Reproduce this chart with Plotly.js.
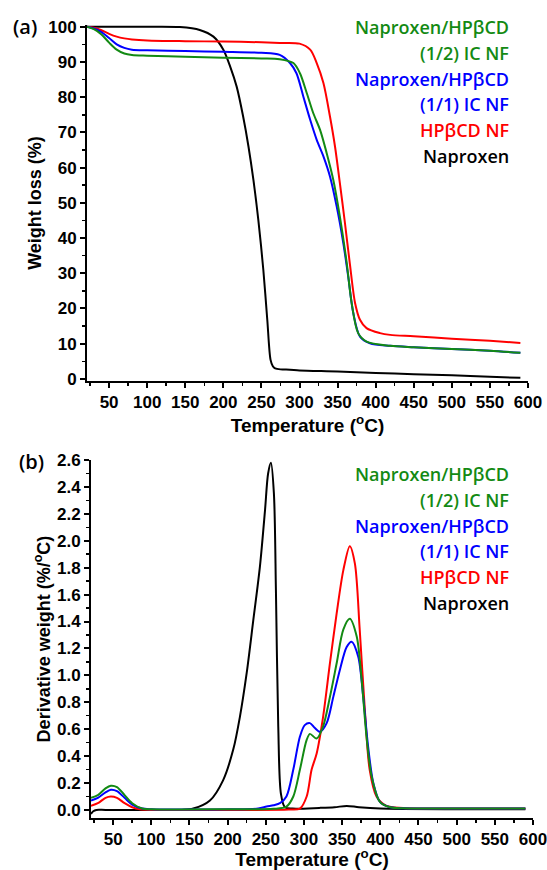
<!DOCTYPE html>
<html>
<head>
<meta charset="utf-8">
<script src="https://cdn.plot.ly/plotly-3.0.1.min.js"></script>
<style>html,body{margin:0;padding:0;background:#fff;}#chart{width:547px;height:870px;}</style>
</head>
<body>
<div id="chart"></div>
<script>
// ---------- (a) TGA data ----------
var tgaNapT = [21, 100, 143, 169, 187, 200, 209, 217.5, 226, 233, 239.5, 246, 252.5, 257.7, 262, 265, 268, 275, 287.5, 300, 350, 400, 450, 500, 550, 590];
var tgaNapW = [100, 100, 99.9, 99.1, 97.2, 93.5, 88.7, 83, 74.5, 66, 56.5, 45, 31, 16.8, 5.4, 3.6, 3.0, 2.7, 2.6, 2.4, 2.1, 1.7, 1.3, 1.0, 0.6, 0.3];

var tgaHpT = [21, 30, 40, 50, 60, 70, 80, 100, 150, 200, 250, 274, 300, 314, 322.6, 331.4, 340, 346.6, 353, 359.7, 366, 373, 379.4, 388, 405.7, 419, 450, 500, 550, 590];
var tgaHpW = [100, 99.7, 99.0, 98.0, 97.2, 96.7, 96.4, 96.1, 95.9, 95.8, 95.6, 95.4, 95.2, 93.5, 89.7, 84, 74.5, 66, 55.6, 44.2, 32.9, 21.5, 16.8, 14.4, 13, 12.5, 12.1, 11.4, 10.8, 10.2];

var tga12T = [21, 30, 40, 50, 60, 70, 80, 100, 150, 200, 250, 274, 292, 300.6, 309.5, 318, 327, 335.7, 344.4, 353, 362, 368.5, 377, 388, 419, 450, 500, 550, 590];
var tga12W = [100, 99.3, 97.8, 95.5, 93.5, 92.4, 92.0, 91.8, 91.5, 91.2, 91.0, 90.8, 89.7, 86.8, 81.2, 75.5, 70.7, 64.1, 56.5, 46.1, 32.9, 21.5, 13, 10.6, 9.4, 9.0, 8.5, 8.0, 7.4];

var tga11T = [21, 30, 40, 50, 60, 70, 80, 100, 150, 200, 250, 274, 287.5, 296, 305, 314, 322.6, 331.4, 340, 348.8, 357.5, 364, 370.6, 379.4, 392.5, 419, 450, 500, 550, 590];
var tga11W = [100, 99.5, 98.5, 96.8, 95.0, 94.0, 93.5, 93.3, 93.1, 92.9, 92.6, 92.0, 89.7, 86.8, 80.2, 73.6, 67.9, 63.2, 57.5, 49, 38.6, 29, 18.7, 12, 10.1, 9.4, 9.0, 8.5, 8.0, 7.4];

// ---------- (b) DTG data ----------
var dtgNapT = [21, 24, 28, 40, 100, 140, 155, 176.8, 194, 207.4, 216, 225, 233.6, 242.3, 249, 253, 256.7, 260.6, 263.3, 266.3, 269.8, 275, 285, 320, 340, 356, 372, 400, 500, 590];
var dtgNapV = [-0.03, -0.01, 0.0, 0.0, 0.0, 0.0, 0.01, 0.07, 0.22, 0.45, 0.69, 1.02, 1.41, 1.81, 2.23, 2.50, 2.58, 2.35, 1.61, 0.62, 0.12, 0.02, 0.01, 0.015, 0.02, 0.03, 0.02, 0.01, 0.005, 0.005];

var dtgHpT = [21, 30, 40, 47, 55, 65, 75, 85, 100, 200, 280, 294.7, 303.5, 310, 316.6, 325, 334, 342.8, 351.5, 360, 366.7, 373, 380, 386, 395, 408, 430, 500, 590];
var dtgHpV = [0.03, 0.05, 0.09, 0.1, 0.09, 0.05, 0.02, 0.005, 0.0, 0.0, 0.003, 0.01, 0.1, 0.30, 0.42, 0.69, 1.09, 1.46, 1.78, 1.96, 1.83, 1.34, 0.72, 0.30, 0.10, 0.03, 0.015, 0.01, 0.01];

var dtg12T = [21, 30, 40, 47, 55, 65, 75, 88, 100, 200, 260, 277, 286, 294.7, 303.5, 307.8, 316.6, 325, 334, 342.8, 351.5, 360, 369, 375.5, 382, 388.6, 399.5, 413, 430, 500, 590];
var dtg12V = [0.09, 0.11, 0.16, 0.18, 0.17, 0.11, 0.05, 0.01, 0.005, 0.005, 0.008, 0.025, 0.1, 0.30, 0.52, 0.565, 0.53, 0.62, 0.84, 1.09, 1.34, 1.42, 1.29, 0.97, 0.54, 0.25, 0.06, 0.02, 0.012, 0.01, 0.01];

var dtg11T = [21, 30, 40, 47, 55, 65, 75, 88, 100, 200, 240, 251, 260, 268.5, 277, 286, 294.7, 301, 307.8, 314, 320.9, 329.7, 338.4, 347, 355.9, 362.4, 371, 377.6, 384, 390.8, 399.5, 413, 430, 500, 590];
var dtg11V = [0.07, 0.09, 0.13, 0.15, 0.14, 0.09, 0.04, 0.01, 0.005, 0.005, 0.01, 0.025, 0.035, 0.05, 0.1, 0.30, 0.545, 0.63, 0.645, 0.61, 0.58, 0.645, 0.84, 1.04, 1.21, 1.25, 1.14, 0.84, 0.47, 0.2, 0.06, 0.02, 0.012, 0.01, 0.01];

// ---------- legend labels ----------
var legendLines = ["Naproxen/HPβCD", "(1/2) IC NF", "Naproxen/HPβCD", "(1/1) IC NF", "HPβCD NF", "Naproxen"];
var legendColors = ["#138a13", "#138a13", "#0000ff", "#0000ff", "#ff0000", "#000000"];

var C = {green: "#138a13", blue: "#0000ff", red: "#ff0000", black: "#000000"};

function tr(x, y, color, xa, ya) {
  return {x: x, y: y, xaxis: xa, yaxis: ya, type: "scatter", mode: "lines",
          line: {color: color, width: 2, shape: "spline", smoothing: 0.85},
          showlegend: false, hoverinfo: "skip"};
}

var data = [
  tr(tgaNapT, tgaNapW, C.black, "x", "y"),
  tr(tgaHpT, tgaHpW, C.red, "x", "y"),
  tr(tga11T, tga11W, C.blue, "x", "y"),
  tr(tga12T, tga12W, C.green, "x", "y"),
  tr(dtgNapT, dtgNapV, C.black, "x2", "y2"),
  tr(dtgHpT, dtgHpV, C.red, "x2", "y2"),
  tr(dtg11T, dtg11V, C.blue, "x2", "y2"),
  tr(dtg12T, dtg12V, C.green, "x2", "y2")
];

var tickFont = {family: "Liberation Sans, Arial, sans-serif", size: 17, color: "#000", weight: "bold"};
var xTitleFont = {family: "Liberation Sans, Arial, sans-serif", size: 19, color: "#000", weight: "bold"};
var yTitleFont = {family: "Liberation Sans, Arial, sans-serif", size: 18, color: "#000", weight: "bold"};

function xax(domain, anchor) {
  return {domain: domain, anchor: anchor, range: [21, 600], showgrid: false, zeroline: false,
          showline: true, linecolor: "#000", linewidth: 2,
          ticks: "outside", ticklen: 5, tickwidth: 2, tickcolor: "#000",
          tick0: 0, dtick: 50, tickfont: tickFont, ticklabeloverflow: "allow",
          minor: {dtick: 25, tick0: 0, ticks: "outside", ticklen: 3, tickwidth: 1.5, tickcolor: "#000"},
          title: {text: "Temperature (<sup>o</sup>C)", font: xTitleFont, standoff: 0}};
}
function yax(domain, anchor, range, dtick, minor, title, standoff) {
  return {domain: domain, anchor: anchor, range: range, showgrid: false, zeroline: false,
          showline: true, linecolor: "#000", linewidth: 2,
          ticks: "outside", ticklen: 5, tickwidth: 2, tickcolor: "#000",
          tick0: 0, dtick: dtick, tickfont: tickFont, ticklabeloverflow: "allow",
          minor: {dtick: minor, tick0: 0, ticks: "outside", ticklen: 3, tickwidth: 1.5, tickcolor: "#000"},
          title: {text: title, font: yTitleFont, standoff: standoff}};
}

var W = 547, H = 870;
var annotations = [];
var legFont = "Open Sans, sans-serif";
function addLegend(yTopPx) {
  for (var i = 0; i < legendLines.length; i++) {
    annotations.push({xref: "paper", yref: "paper", x: 511 / W, y: 1 - (yTopPx + i * 25.8) / H,
      xanchor: "right", yanchor: "middle", showarrow: false, text: legendLines[i],
      font: {family: legFont, size: 18, color: legendColors[i], weight: 600}});
  }
}
addLegend(27);
addLegend(474);
annotations.push({xref: "paper", yref: "paper", x: 25 / W, y: 1 - 27 / H, xanchor: "center", yanchor: "middle",
  showarrow: false, text: "(a)", font: {family: legFont, size: 20, color: "#000", weight: 600}});
annotations.push({xref: "paper", yref: "paper", x: 31 / W, y: 1 - 462 / H, xanchor: "center", yanchor: "middle",
  showarrow: false, text: "(b)", font: {family: legFont, size: 20, color: "#000", weight: 600}});

var layout = {
  width: W, height: H, margin: {l: 0, r: 0, t: 0, b: 0}, paper_bgcolor: "#fff", plot_bgcolor: "#fff",
  showlegend: false,
  xaxis: xax([87 / W, 528 / W], "y"),
  yaxis: yax([(H - 381) / H, (H - 25) / H], "x", [-0.6, 100.5], 10, 5, "Weight loss (%)", 2),
  xaxis2: xax([91 / W, 533 / W], "y2"),
  yaxis2: yax([(H - 818) / H, (H - 460) / H], "x2", [-0.06, 2.6], 0.2, 0.1, "Derivative weight (%/<sup>o</sup>C)", 2),
  annotations: annotations
};
layout.yaxis2.tickformat = ".1f";

Plotly.newPlot("chart", data, layout, {displayModeBar: false, staticPlot: true});
</script>
</body>
</html>
